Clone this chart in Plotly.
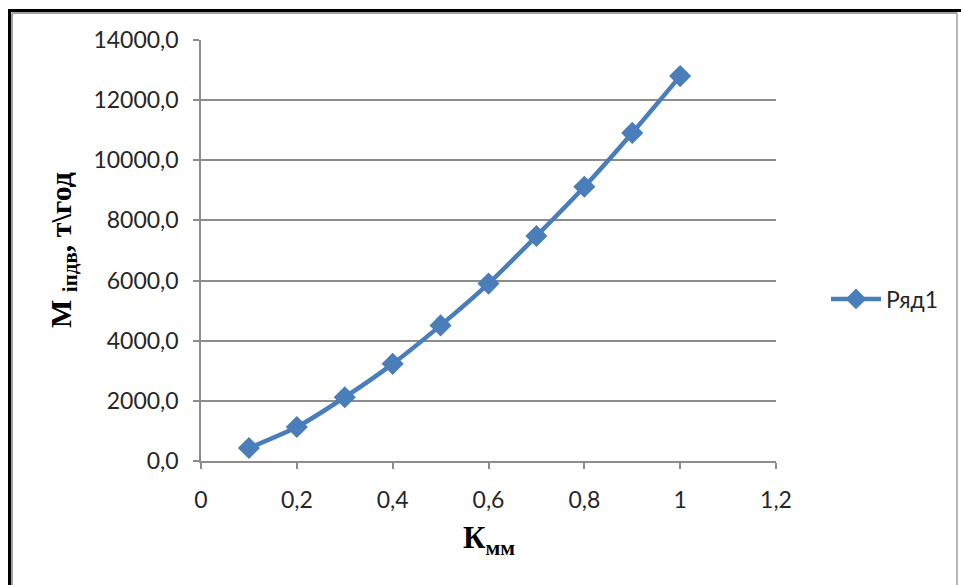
import plotly.graph_objects as go

# Data
k_mm = [0.1, 0.2, 0.3, 0.4, 0.5, 0.6, 0.7, 0.8, 0.9, 1.0]
m_pdv = [430, 1130, 2120, 3230, 4510, 5900, 7480, 9120, 10910, 12800]
series_name = "Ряд1"

W, H = 961, 585
L, R, T, B = 201, 185, 40, 124
PW, PH = W - L - R, H - T - B

def px(x):
    return (x - L) / PW

def py(y):
    return (H - B - y) / PH

blue = "#4A7EBB"
grid = "#8C8C8C"

fig = go.Figure()
fig.add_trace(go.Scatter(
    x=k_mm, y=m_pdv, name=series_name, mode="lines+markers",
    line=dict(color=blue, width=4.5, shape="spline", smoothing=0.6),
    marker=dict(symbol="diamond", size=17, color=blue),
))

tickfont = dict(family="Lato, 'Open Sans', sans-serif", size=23, color="#262626")

fig.update_layout(
    width=W, height=H,
    margin=dict(l=L, r=R, t=T, b=B, pad=0),
    paper_bgcolor="white", plot_bgcolor="white",
    separators=", ",
    showlegend=True,
    legend=dict(x=px(826), y=py(299), xanchor="left", yanchor="middle",
                font=dict(family="Lato, 'Open Sans', sans-serif", size=23, color="#262626"),
                itemwidth=50, bgcolor="rgba(0,0,0,0)"),
    xaxis=dict(range=[0, 1.2], dtick=0.2, tick0=0, showgrid=False, zeroline=False,
               showline=True, linecolor=grid, linewidth=1.5,
               ticks="outside", ticklen=6, tickcolor=grid, tickwidth=1.5,
               tickfont=tickfont, ticklabelstandoff=12),
    yaxis=dict(range=[0, 14000], dtick=2000, tick0=0, tickformat=".1f",
               showgrid=True, gridcolor=grid, gridwidth=1.5, zeroline=False,
               showline=True, linecolor=grid, linewidth=1.5,
               ticks="outside", ticklen=6, tickcolor=grid, tickwidth=1.5,
               tickfont=tickfont, ticklabelstandoff=10),
)

serif = "'Liberation Serif', 'Times New Roman', serif"
fig.add_annotation(
    x=px(63), y=py(250), xref="paper", yref="paper",
    text="<b>M <sub>іпдв</sub>, т\\год</b>", textangle=-90, showarrow=False,
    font=dict(family=serif, size=30, color="black"),
    xanchor="center", yanchor="middle",
)
fig.add_annotation(
    x=px(489), y=py(540), xref="paper", yref="paper",
    text="<b>К<sub>мм</sub></b>", showarrow=False,
    font=dict(family=serif, size=31, color="black"),
    xanchor="center", yanchor="middle",
)

# outer frame
fig.add_shape(type="line", xref="paper", yref="paper", x0=px(9.5), x1=px(961), y0=py(10.5), y1=py(10.5),
              line=dict(color="black", width=3))
fig.add_shape(type="line", xref="paper", yref="paper", x0=px(9.5), x1=px(9.5), y0=py(9), y1=py(585),
              line=dict(color="black", width=3))
fig.add_shape(type="line", xref="paper", yref="paper", x0=px(12), x1=px(957), y0=py(13), y1=py(13),
              line=dict(color="#A0A0A0", width=2))
fig.add_shape(type="line", xref="paper", yref="paper", x0=px(12), x1=px(12), y0=py(13), y1=py(585),
              line=dict(color="#A0A0A0", width=2))
fig.add_shape(type="line", xref="paper", yref="paper", x0=px(957), x1=px(957), y0=py(13), y1=py(585),
              line=dict(color="#A0A0A0", width=1.5))

fig.write_html("out.html")
